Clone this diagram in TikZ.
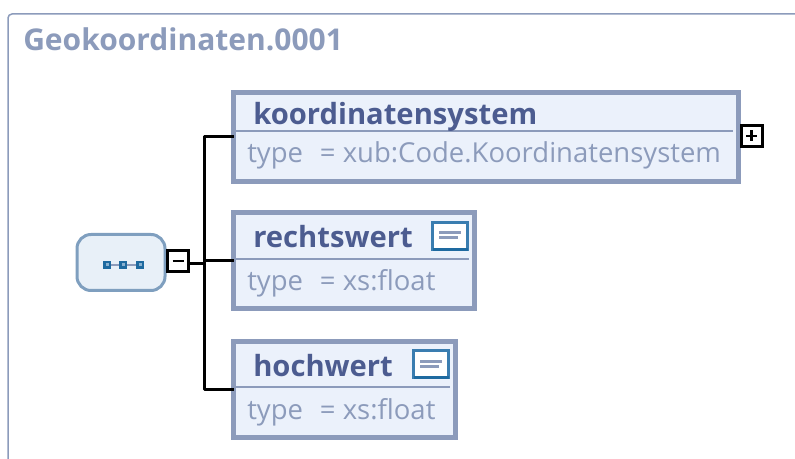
\documentclass[tikz,border=0pt]{standalone}
\usepackage{fontspec}
\setmainfont{Open Sans}
\def\px{0.75pt}
\definecolor{schemaline}{HTML}{8C9BBB}
\definecolor{schemafill}{HTML}{EBF1FB}
\definecolor{schemaname}{HTML}{4C5C90}
\definecolor{rootline}{HTML}{7F9FBF}
\definecolor{rootfill}{HTML}{E8F0F8}
\definecolor{iconblue}{HTML}{3A7DB0}
\definecolor{icondark}{HTML}{1E6AA0}
\tikzset{
    x=\px,y=-\px,
    elem/.style={draw=schemaline,fill=schemafill,line width=5*\px,outer sep=0pt,inner sep=0pt},
    elemname/.style={anchor=base west,inner sep=0pt,text=schemaname,font=\bfseries\fontsize{21.9}{22}\selectfont},
    elemtype/.style={anchor=base west,inner sep=0pt,text=schemaline,font=\fontsize{20.6}{21}\selectfont},
    toggle/.style={draw=black,fill=white,line width=3*\px,minimum width=21*\px,minimum height=21*\px,outer sep=0pt,inner sep=0pt},
    docicon/.style={draw=iconblue,fill=white,line width=3.5*\px,minimum width=35*\px,minimum height=27*\px,outer sep=0pt,inner sep=0pt},
    seqsquare/.style={draw=icondark,fill=iconblue!60,line width=2.5*\px,minimum width=5.5*\px,minimum height=5.5*\px,outer sep=0pt,inner sep=0pt},
    conn/.style={draw=black,line width=3*\px},
}
\begin{document}
\begin{tikzpicture}
    \useasboundingbox (0,0) rectangle (795,459);
    %% frame
    \draw[schemaline,line width=1.5*\px,rounded corners=3pt] (8,459) -- (8,14) -- (795,14);
    \node[anchor=base west,inner sep=0pt,text=schemaline,font=\bfseries\fontsize{22.5}{23}\selectfont] (title) at (23,51) {Geokoordinaten.0001};
    %% sequence
    \node[draw=rootline,fill=rootfill,line width=3*\px,rounded corners=10.5pt,minimum width=88*\px,minimum height=56*\px,outer sep=0pt] (root) at (121,262.5) {};
    \node[seqsquare] (seqa) at (107,265) {};
    \node[seqsquare] (seqb) at (123,265) {};
    \node[seqsquare] (seqc) at (140,265) {};
    \draw[schemaline,line width=2*\px,shorten <=1.5*\px,shorten >=1.5*\px] (seqa) -- (seqb);
    \draw[schemaline,line width=2*\px,shorten <=1.5*\px,shorten >=1.5*\px] (seqb) -- (seqc);
    \node[toggle] (minus) at (178,261) {};
    \draw[line width=2.5*\px] (minus.center) ++(-5.5,0) -- ++(11,0);
    %% elements
    \node[elem,minimum width=505*\px,minimum height=89*\px] (koord) at (486,137) {};
    \node[elem,minimum width=241*\px,minimum height=96*\px] (rechts) at (354,261) {};
    \node[elem,minimum width=222*\px,minimum height=96*\px] (hoch) at (344.5,389) {};
    \draw[schemaline,line width=2.5*\px] (236,131) -- (733,131);
    \draw[schemaline,line width=2.5*\px] (236,259) -- (469,259);
    \draw[schemaline,line width=2.5*\px] (236,387) -- (450,387);
    %% labels
    \node[elemname] (koordname) at (253,125) {koordinatensystem};
    \node[elemtype] (koordtype) at (247,163) {type\ \ \hspace{2pt}= xub:Code.Koordinatensystem};
    \node[elemname] (rechtsname) at (253,248) {rechtswert};
    \node[elemtype] (rechtstype) at (247,291) {type\ \ \hspace{2pt}= xs:float};
    \node[elemname] (hochname) at (253,376) {hochwert};
    \node[elemtype] (hochtype) at (247,419) {type\ \ \hspace{2pt}= xs:float};
    %% annotation icons
    \node[docicon] (rechtsdoc) at (450,236) {};
    \node[docicon] (hochdoc) at (431,364) {};
    \foreach \n in {rechtsdoc,hochdoc} {
        \draw[icondark,line width=3.5*\px] (\n.south west) -- (\n.south east);
        \draw[schemaline,line width=3*\px] ([shift={(-11,-3)}]\n.center) -- ([shift={(11,-3)}]\n.center);
        \draw[schemaline,line width=3*\px] ([shift={(-11,2)}]\n.center) -- ([shift={(8,2)}]\n.center);
    }
    %% tree
    \coordinate (fork) at (204,263.5);
    \coordinate (trunktop) at (204,137);
    \coordinate (trunkbot) at (204,389);
    \draw[conn,shorten <=1.5*\px] (minus.east |- fork) -- (fork);
    \draw[conn,line join=round] (koord.west) -- (trunktop) -- (trunkbot) -- (hoch.west);
    \draw[conn] (trunktop |- rechts.west) -- (rechts.west);
    \node[toggle] (plus) at (751.5,136) {};
    \draw[line width=2.5*\px] (plus.center) ++(-5.5,0) -- ++(11,0);
    \draw[line width=2.5*\px] (plus.center) ++(0,-5.5) -- ++(0,11);
\end{tikzpicture}
\end{document}
